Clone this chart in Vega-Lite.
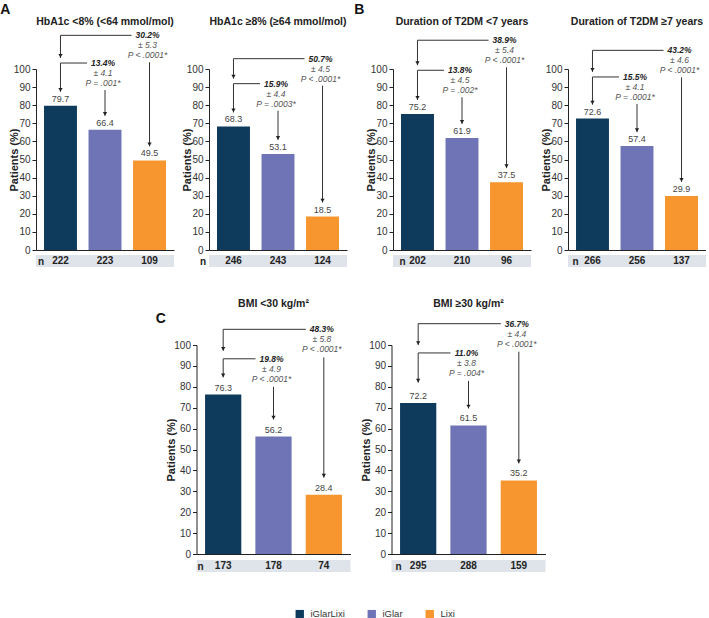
{
"$schema": "https://vega.github.io/schema/vega-lite/v6.json",
"padding": {"left": 0, "top": 2, "right": 0, "bottom": 0},
"config": {"view": {"stroke": null}, "font": "Liberation Sans", "title": {"font": "Liberation Sans"}},
"datasets": {"d": [
{"panel":"A1","kind":"bar","g":"iGlarLixi","v":79.7,"n":222},
{"panel":"A1","kind":"bar","g":"iGlar","v":66.4,"n":223},
{"panel":"A1","kind":"bar","g":"Lixi","v":49.5,"n":109},
{"panel":"A2","kind":"bar","g":"iGlarLixi","v":68.3,"n":246},
{"panel":"A2","kind":"bar","g":"iGlar","v":53.1,"n":243},
{"panel":"A2","kind":"bar","g":"Lixi","v":18.5,"n":124},
{"panel":"B1","kind":"bar","g":"iGlarLixi","v":75.2,"n":202},
{"panel":"B1","kind":"bar","g":"iGlar","v":61.9,"n":210},
{"panel":"B1","kind":"bar","g":"Lixi","v":37.5,"n":96},
{"panel":"B2","kind":"bar","g":"iGlarLixi","v":72.6,"n":266},
{"panel":"B2","kind":"bar","g":"iGlar","v":57.4,"n":256},
{"panel":"B2","kind":"bar","g":"Lixi","v":29.9,"n":137},
{"panel":"C1","kind":"bar","g":"iGlarLixi","v":76.3,"n":173},
{"panel":"C1","kind":"bar","g":"iGlar","v":56.2,"n":178},
{"panel":"C1","kind":"bar","g":"Lixi","v":28.4,"n":74},
{"panel":"C2","kind":"bar","g":"iGlarLixi","v":72.2,"n":295},
{"panel":"C2","kind":"bar","g":"iGlar","v":61.5,"n":288},
{"panel":"C2","kind":"bar","g":"Lixi","v":35.2,"n":159},
{"panel":"A1","kind":"cmp","from":"iGlarLixi","to":"iGlar","lvl":103.3,"tip":87.4,"vto":66.4,"diff":"13.4%","sd":"± 4.1","p":"P = .001*"},
{"panel":"A1","kind":"cmp","from":"iGlarLixi","to":"Lixi","lvl":118.6,"tip":106.1,"vto":49.5,"diff":"30.2%","sd":"± 5.3","p":"P < .0001*"},
{"panel":"A2","kind":"cmp","from":"iGlarLixi","to":"iGlar","lvl":91.9,"tip":76.0,"vto":53.1,"diff":"15.9%","sd":"± 4.4","p":"P = .0003*"},
{"panel":"A2","kind":"cmp","from":"iGlarLixi","to":"Lixi","lvl":105.7,"tip":94.7,"vto":18.5,"diff":"50.7%","sd":"± 4.5","p":"P < .0001*"},
{"panel":"B1","kind":"cmp","from":"iGlarLixi","to":"iGlar","lvl":99.3,"tip":82.9,"vto":61.9,"diff":"13.8%","sd":"± 4.5","p":"P = .002*"},
{"panel":"B1","kind":"cmp","from":"iGlarLixi","to":"Lixi","lvl":115.9,"tip":102.1,"vto":37.5,"diff":"38.9%","sd":"± 5.4","p":"P < .0001*"},
{"panel":"B2","kind":"cmp","from":"iGlarLixi","to":"iGlar","lvl":95.6,"tip":80.3,"vto":57.4,"diff":"15.5%","sd":"± 4.1","p":"P = .0001*"},
{"panel":"B2","kind":"cmp","from":"iGlarLixi","to":"Lixi","lvl":110.3,"tip":98.4,"vto":29.9,"diff":"43.2%","sd":"± 4.6","p":"P < .0001*"},
{"panel":"C1","kind":"cmp","from":"iGlarLixi","to":"iGlar","lvl":93.4,"tip":84.5,"vto":56.2,"diff":"19.8%","sd":"± 4.9","p":"P < .0001*"},
{"panel":"C1","kind":"cmp","from":"iGlarLixi","to":"Lixi","lvl":107.5,"tip":97.2,"vto":28.4,"diff":"48.3%","sd":"± 5.8","p":"P < .0001*"},
{"panel":"C2","kind":"cmp","from":"iGlarLixi","to":"iGlar","lvl":96.2,"tip":82.0,"vto":61.5,"diff":"11.0%","sd":"± 3.8","p":"P = .004*"},
{"panel":"C2","kind":"cmp","from":"iGlarLixi","to":"Lixi","lvl":110.2,"tip":100.0,"vto":35.2,"diff":"36.7%","sd":"± 4.4","p":"P < .0001*"}
]},
"vconcat": [
{"hconcat": [
{"title": {"text": "A", "anchor": "start", "fontSize": 14, "fontWeight": "bold", "color": "#111", "offset": 0, "dx": -8},
 "hconcat": [
{"width": 138, "height": 181, "data": {"name": "d"},
 "title": {"text": "HbA1c <8% (<64 mmol/mol)", "fontSize": 10.5, "fontWeight": "bold", "color": "#222", "offset": 4, "frame": "group"},
 "layer": [
  {"transform": [{"filter": "datum.panel=='A1' && datum.g=='iGlarLixi'"}], "mark": {"type": "rect", "color": "#dfe3ea"},
   "encoding": {"y": {"datum": -2.8, "type": "quantitative", "scale": {"domain": [0, 100], "nice": false}}, "y2": {"datum": -9.4}}},
  {"transform": [{"filter": "datum.panel=='A1' && datum.kind=='bar'"}], "mark": {"type": "bar"},
   "encoding": {
    "x": {"field": "g", "type": "nominal", "scale": {"domain": ["iGlarLixi", "iGlar", "Lixi"], "paddingInner": 0.26, "paddingOuter": 0.18},
          "axis": {"title": "n", "zindex": 1, "labels": false, "ticks": false, "domainColor": "#222", "titleX": 4.5, "titleY": 11, "titleAngle": 0, "titleAlign": "center", "titleBaseline": "middle", "titleFontSize": 10, "titleFontWeight": "bold", "titleColor": "#222"}},
    "y": {"field": "v", "type": "quantitative", "scale": {"domain": [0, 100], "nice": false},
          "axis": {"title": "Patients (%)", "values": [0,10,20,30,40,50,60,70,80,90,100], "tickCount": 11, "labelOverlap": false, "grid": false, "tickSize": 4, "labelPadding": 2, "labelFontSize": 10, "labelColor": "#333", "domainColor": "#222", "tickColor": "#222", "titleFontSize": 11, "titleFontWeight": "bold", "titleColor": "#222", "titlePadding": -6}},
    "color": {"field": "g", "type": "nominal", "scale": {"domain": ["iGlarLixi", "iGlar", "Lixi"], "range": ["#0e3a5c", "#6f74b6", "#f7952e"]},
              "legend": {"title": null, "orient": "none", "legendX": 259, "legendY": 540, "direction": "horizontal", "symbolType": "square", "symbolSize": 70, "symbolStrokeWidth": 0, "labelFontSize": 9.5, "labelColor": "#333", "columnPadding": 22, "labelOffset": 6}}}},
  {"transform": [{"filter": "datum.panel=='A1' && datum.kind=='bar'"}], "mark": {"type": "text", "fontSize": 9, "color": "#444", "baseline": "bottom", "dy": -2},
   "encoding": {"x": {"field": "g", "type": "nominal", "scale": {"domain": ["iGlarLixi", "iGlar", "Lixi"], "paddingInner": 0.26, "paddingOuter": 0.18}},
    "y": {"field": "v", "type": "quantitative", "scale": {"domain": [0, 100], "nice": false}}, "text": {"field": "v", "type": "quantitative", "format": ".1f"}}},
  {"transform": [{"filter": "datum.panel=='A1' && datum.kind=='bar'"}], "mark": {"type": "text", "fontSize": 10, "fontWeight": "bold", "color": "#222", "baseline": "middle"},
   "encoding": {"x": {"field": "g", "type": "nominal", "scale": {"domain": ["iGlarLixi", "iGlar", "Lixi"], "paddingInner": 0.26, "paddingOuter": 0.18}},
    "y": {"datum": -6.1, "type": "quantitative", "scale": {"domain": [0, 100], "nice": false}}, "text": {"field": "n", "type": "nominal"}}},
  {"transform": [{"filter": "datum.panel=='A1' && datum.kind=='cmp'"}], "mark": {"type": "rule", "color": "#333", "x2Offset": -18},
   "encoding": {"x": {"field": "from", "type": "nominal", "scale": {"domain": ["iGlarLixi", "iGlar", "Lixi"], "paddingInner": 0.26, "paddingOuter": 0.18}}, "x2": {"field": "to"},
    "y": {"field": "lvl", "type": "quantitative", "scale": {"domain": [0, 100], "nice": false}}}},
  {"transform": [{"filter": "datum.panel=='A1' && datum.kind=='cmp'"}], "mark": {"type": "rule", "color": "#333"},
   "encoding": {"x": {"field": "from", "type": "nominal", "scale": {"domain": ["iGlarLixi", "iGlar", "Lixi"], "paddingInner": 0.26, "paddingOuter": 0.18}},
    "y": {"field": "lvl", "type": "quantitative", "scale": {"domain": [0, 100], "nice": false}}, "y2": {"field": "tip"}}},
  {"transform": [{"filter": "datum.panel=='A1' && datum.kind=='cmp'"}], "mark": {"type": "rule", "color": "#333", "yOffset": 27, "y2Offset": -14},
   "encoding": {"x": {"field": "to", "type": "nominal", "scale": {"domain": ["iGlarLixi", "iGlar", "Lixi"], "paddingInner": 0.26, "paddingOuter": 0.18}},
    "y": {"field": "lvl", "type": "quantitative", "scale": {"domain": [0, 100], "nice": false}}, "y2": {"field": "vto"}}},
  {"transform": [{"filter": "datum.panel=='A1' && datum.kind=='cmp'"}], "mark": {"type": "point", "shape": "triangle-down", "filled": true, "color": "#222", "opacity": 1, "size": 18, "yOffset": -2},
   "encoding": {"x": {"field": "from", "type": "nominal", "scale": {"domain": ["iGlarLixi", "iGlar", "Lixi"], "paddingInner": 0.26, "paddingOuter": 0.18}},
    "y": {"field": "tip", "type": "quantitative", "scale": {"domain": [0, 100], "nice": false}}}},
  {"transform": [{"filter": "datum.panel=='A1' && datum.kind=='cmp'"}], "mark": {"type": "point", "shape": "triangle-down", "filled": true, "color": "#222", "opacity": 1, "size": 18, "yOffset": -16},
   "encoding": {"x": {"field": "to", "type": "nominal", "scale": {"domain": ["iGlarLixi", "iGlar", "Lixi"], "paddingInner": 0.26, "paddingOuter": 0.18}},
    "y": {"field": "vto", "type": "quantitative", "scale": {"domain": [0, 100], "nice": false}}}},
  {"transform": [{"filter": "datum.panel=='A1' && datum.kind=='cmp'"}], "mark": {"type": "text", "fontSize": 8.5, "fontStyle": "italic", "fontWeight": "bold", "color": "#222", "baseline": "middle", "dx": -2},
   "encoding": {"x": {"field": "to", "type": "nominal", "scale": {"domain": ["iGlarLixi", "iGlar", "Lixi"], "paddingInner": 0.26, "paddingOuter": 0.18}},
    "y": {"field": "lvl", "type": "quantitative", "scale": {"domain": [0, 100], "nice": false}}, "text": {"field": "diff"}}},
  {"transform": [{"filter": "datum.panel=='A1' && datum.kind=='cmp'"}], "mark": {"type": "text", "fontSize": 8.5, "fontStyle": "italic", "color": "#555", "baseline": "middle", "dx": -2, "dy": 10},
   "encoding": {"x": {"field": "to", "type": "nominal", "scale": {"domain": ["iGlarLixi", "iGlar", "Lixi"], "paddingInner": 0.26, "paddingOuter": 0.18}},
    "y": {"field": "lvl", "type": "quantitative", "scale": {"domain": [0, 100], "nice": false}}, "text": {"field": "sd"}}},
  {"transform": [{"filter": "datum.panel=='A1' && datum.kind=='cmp'"}], "mark": {"type": "text", "fontSize": 8.5, "fontStyle": "italic", "color": "#555", "baseline": "middle", "dx": -2, "dy": 20},
   "encoding": {"x": {"field": "to", "type": "nominal", "scale": {"domain": ["iGlarLixi", "iGlar", "Lixi"], "paddingInner": 0.26, "paddingOuter": 0.18}},
    "y": {"field": "lvl", "type": "quantitative", "scale": {"domain": [0, 100], "nice": false}}, "text": {"field": "p"}}}
 ]},
{"width": 138, "height": 181, "data": {"name": "d"},
 "title": {"text": "HbA1c ≥8% (≥64 mmol/mol)", "fontSize": 10.5, "fontWeight": "bold", "color": "#222", "offset": 27, "frame": "group"},
 "layer": [
  {"transform": [{"filter": "datum.panel=='A2' && datum.g=='iGlarLixi'"}], "mark": {"type": "rect", "color": "#dfe3ea"},
   "encoding": {"y": {"datum": -2.8, "type": "quantitative", "scale": {"domain": [0, 100], "nice": false}}, "y2": {"datum": -9.4}}},
  {"transform": [{"filter": "datum.panel=='A2' && datum.kind=='bar'"}], "mark": {"type": "bar"},
   "encoding": {
    "x": {"field": "g", "type": "nominal", "scale": {"domain": ["iGlarLixi", "iGlar", "Lixi"], "paddingInner": 0.26, "paddingOuter": 0.18},
          "axis": {"title": "n", "zindex": 1, "labels": false, "ticks": false, "domainColor": "#222", "titleX": -6.5, "titleY": 11, "titleAngle": 0, "titleAlign": "center", "titleBaseline": "middle", "titleFontSize": 10, "titleFontWeight": "bold", "titleColor": "#222"}},
    "y": {"field": "v", "type": "quantitative", "scale": {"domain": [0, 100], "nice": false},
          "axis": {"title": "Patients (%)", "values": [0,10,20,30,40,50,60,70,80,90,100], "tickCount": 11, "labelOverlap": false, "grid": false, "tickSize": 4, "labelPadding": 2, "labelFontSize": 10, "labelColor": "#333", "domainColor": "#222", "tickColor": "#222", "titleFontSize": 11, "titleFontWeight": "bold", "titleColor": "#222", "titlePadding": -6}},
    "color": {"field": "g", "type": "nominal", "scale": {"domain": ["iGlarLixi", "iGlar", "Lixi"], "range": ["#0e3a5c", "#6f74b6", "#f7952e"]},
              "legend": {"title": null, "orient": "none", "legendX": 259, "legendY": 540, "direction": "horizontal", "symbolType": "square", "symbolSize": 70, "symbolStrokeWidth": 0, "labelFontSize": 9.5, "labelColor": "#333", "columnPadding": 22, "labelOffset": 6}}}},
  {"transform": [{"filter": "datum.panel=='A2' && datum.kind=='bar'"}], "mark": {"type": "text", "fontSize": 9, "color": "#444", "baseline": "bottom", "dy": -2},
   "encoding": {"x": {"field": "g", "type": "nominal", "scale": {"domain": ["iGlarLixi", "iGlar", "Lixi"], "paddingInner": 0.26, "paddingOuter": 0.18}},
    "y": {"field": "v", "type": "quantitative", "scale": {"domain": [0, 100], "nice": false}}, "text": {"field": "v", "type": "quantitative", "format": ".1f"}}},
  {"transform": [{"filter": "datum.panel=='A2' && datum.kind=='bar'"}], "mark": {"type": "text", "fontSize": 10, "fontWeight": "bold", "color": "#222", "baseline": "middle"},
   "encoding": {"x": {"field": "g", "type": "nominal", "scale": {"domain": ["iGlarLixi", "iGlar", "Lixi"], "paddingInner": 0.26, "paddingOuter": 0.18}},
    "y": {"datum": -6.1, "type": "quantitative", "scale": {"domain": [0, 100], "nice": false}}, "text": {"field": "n", "type": "nominal"}}},
  {"transform": [{"filter": "datum.panel=='A2' && datum.kind=='cmp'"}], "mark": {"type": "rule", "color": "#333", "x2Offset": -18},
   "encoding": {"x": {"field": "from", "type": "nominal", "scale": {"domain": ["iGlarLixi", "iGlar", "Lixi"], "paddingInner": 0.26, "paddingOuter": 0.18}}, "x2": {"field": "to"},
    "y": {"field": "lvl", "type": "quantitative", "scale": {"domain": [0, 100], "nice": false}}}},
  {"transform": [{"filter": "datum.panel=='A2' && datum.kind=='cmp'"}], "mark": {"type": "rule", "color": "#333"},
   "encoding": {"x": {"field": "from", "type": "nominal", "scale": {"domain": ["iGlarLixi", "iGlar", "Lixi"], "paddingInner": 0.26, "paddingOuter": 0.18}},
    "y": {"field": "lvl", "type": "quantitative", "scale": {"domain": [0, 100], "nice": false}}, "y2": {"field": "tip"}}},
  {"transform": [{"filter": "datum.panel=='A2' && datum.kind=='cmp'"}], "mark": {"type": "rule", "color": "#333", "yOffset": 27, "y2Offset": -14},
   "encoding": {"x": {"field": "to", "type": "nominal", "scale": {"domain": ["iGlarLixi", "iGlar", "Lixi"], "paddingInner": 0.26, "paddingOuter": 0.18}},
    "y": {"field": "lvl", "type": "quantitative", "scale": {"domain": [0, 100], "nice": false}}, "y2": {"field": "vto"}}},
  {"transform": [{"filter": "datum.panel=='A2' && datum.kind=='cmp'"}], "mark": {"type": "point", "shape": "triangle-down", "filled": true, "color": "#222", "opacity": 1, "size": 18, "yOffset": -2},
   "encoding": {"x": {"field": "from", "type": "nominal", "scale": {"domain": ["iGlarLixi", "iGlar", "Lixi"], "paddingInner": 0.26, "paddingOuter": 0.18}},
    "y": {"field": "tip", "type": "quantitative", "scale": {"domain": [0, 100], "nice": false}}}},
  {"transform": [{"filter": "datum.panel=='A2' && datum.kind=='cmp'"}], "mark": {"type": "point", "shape": "triangle-down", "filled": true, "color": "#222", "opacity": 1, "size": 18, "yOffset": -16},
   "encoding": {"x": {"field": "to", "type": "nominal", "scale": {"domain": ["iGlarLixi", "iGlar", "Lixi"], "paddingInner": 0.26, "paddingOuter": 0.18}},
    "y": {"field": "vto", "type": "quantitative", "scale": {"domain": [0, 100], "nice": false}}}},
  {"transform": [{"filter": "datum.panel=='A2' && datum.kind=='cmp'"}], "mark": {"type": "text", "fontSize": 8.5, "fontStyle": "italic", "fontWeight": "bold", "color": "#222", "baseline": "middle", "dx": -2},
   "encoding": {"x": {"field": "to", "type": "nominal", "scale": {"domain": ["iGlarLixi", "iGlar", "Lixi"], "paddingInner": 0.26, "paddingOuter": 0.18}},
    "y": {"field": "lvl", "type": "quantitative", "scale": {"domain": [0, 100], "nice": false}}, "text": {"field": "diff"}}},
  {"transform": [{"filter": "datum.panel=='A2' && datum.kind=='cmp'"}], "mark": {"type": "text", "fontSize": 8.5, "fontStyle": "italic", "color": "#555", "baseline": "middle", "dx": -2, "dy": 10},
   "encoding": {"x": {"field": "to", "type": "nominal", "scale": {"domain": ["iGlarLixi", "iGlar", "Lixi"], "paddingInner": 0.26, "paddingOuter": 0.18}},
    "y": {"field": "lvl", "type": "quantitative", "scale": {"domain": [0, 100], "nice": false}}, "text": {"field": "sd"}}},
  {"transform": [{"filter": "datum.panel=='A2' && datum.kind=='cmp'"}], "mark": {"type": "text", "fontSize": 8.5, "fontStyle": "italic", "color": "#555", "baseline": "middle", "dx": -2, "dy": 20},
   "encoding": {"x": {"field": "to", "type": "nominal", "scale": {"domain": ["iGlarLixi", "iGlar", "Lixi"], "paddingInner": 0.26, "paddingOuter": 0.18}},
    "y": {"field": "lvl", "type": "quantitative", "scale": {"domain": [0, 100], "nice": false}}, "text": {"field": "p"}}}
 ]}
 ], "spacing": 7},
{"title": {"text": "B", "anchor": "start", "fontSize": 14, "fontWeight": "bold", "color": "#111", "offset": 0, "dx": -11},
 "hconcat": [
{"width": 138, "height": 181, "data": {"name": "d"},
 "title": {"text": "Duration of T2DM <7 years", "fontSize": 10.5, "fontWeight": "bold", "color": "#222", "offset": 9, "frame": "group"},
 "layer": [
  {"transform": [{"filter": "datum.panel=='B1' && datum.g=='iGlarLixi'"}], "mark": {"type": "rect", "color": "#dfe3ea"},
   "encoding": {"y": {"datum": -2.8, "type": "quantitative", "scale": {"domain": [0, 100], "nice": false}}, "y2": {"datum": -9.4}}},
  {"transform": [{"filter": "datum.panel=='B1' && datum.kind=='bar'"}], "mark": {"type": "bar"},
   "encoding": {
    "x": {"field": "g", "type": "nominal", "scale": {"domain": ["iGlarLixi", "iGlar", "Lixi"], "paddingInner": 0.26, "paddingOuter": 0.18},
          "axis": {"title": "n", "zindex": 1, "labels": false, "ticks": false, "domainColor": "#222", "titleX": 9, "titleY": 11, "titleAngle": 0, "titleAlign": "center", "titleBaseline": "middle", "titleFontSize": 10, "titleFontWeight": "bold", "titleColor": "#222"}},
    "y": {"field": "v", "type": "quantitative", "scale": {"domain": [0, 100], "nice": false},
          "axis": {"title": "Patients (%)", "values": [0,10,20,30,40,50,60,70,80,90,100], "tickCount": 11, "labelOverlap": false, "grid": false, "tickSize": 4, "labelPadding": 2, "labelFontSize": 10, "labelColor": "#333", "domainColor": "#222", "tickColor": "#222", "titleFontSize": 11, "titleFontWeight": "bold", "titleColor": "#222", "titlePadding": -6}},
    "color": {"field": "g", "type": "nominal", "scale": {"domain": ["iGlarLixi", "iGlar", "Lixi"], "range": ["#0e3a5c", "#6f74b6", "#f7952e"]},
              "legend": {"title": null, "orient": "none", "legendX": 259, "legendY": 540, "direction": "horizontal", "symbolType": "square", "symbolSize": 70, "symbolStrokeWidth": 0, "labelFontSize": 9.5, "labelColor": "#333", "columnPadding": 22, "labelOffset": 6}}}},
  {"transform": [{"filter": "datum.panel=='B1' && datum.kind=='bar'"}], "mark": {"type": "text", "fontSize": 9, "color": "#444", "baseline": "bottom", "dy": -2},
   "encoding": {"x": {"field": "g", "type": "nominal", "scale": {"domain": ["iGlarLixi", "iGlar", "Lixi"], "paddingInner": 0.26, "paddingOuter": 0.18}},
    "y": {"field": "v", "type": "quantitative", "scale": {"domain": [0, 100], "nice": false}}, "text": {"field": "v", "type": "quantitative", "format": ".1f"}}},
  {"transform": [{"filter": "datum.panel=='B1' && datum.kind=='bar'"}], "mark": {"type": "text", "fontSize": 10, "fontWeight": "bold", "color": "#222", "baseline": "middle"},
   "encoding": {"x": {"field": "g", "type": "nominal", "scale": {"domain": ["iGlarLixi", "iGlar", "Lixi"], "paddingInner": 0.26, "paddingOuter": 0.18}},
    "y": {"datum": -6.1, "type": "quantitative", "scale": {"domain": [0, 100], "nice": false}}, "text": {"field": "n", "type": "nominal"}}},
  {"transform": [{"filter": "datum.panel=='B1' && datum.kind=='cmp'"}], "mark": {"type": "rule", "color": "#333", "x2Offset": -18},
   "encoding": {"x": {"field": "from", "type": "nominal", "scale": {"domain": ["iGlarLixi", "iGlar", "Lixi"], "paddingInner": 0.26, "paddingOuter": 0.18}}, "x2": {"field": "to"},
    "y": {"field": "lvl", "type": "quantitative", "scale": {"domain": [0, 100], "nice": false}}}},
  {"transform": [{"filter": "datum.panel=='B1' && datum.kind=='cmp'"}], "mark": {"type": "rule", "color": "#333"},
   "encoding": {"x": {"field": "from", "type": "nominal", "scale": {"domain": ["iGlarLixi", "iGlar", "Lixi"], "paddingInner": 0.26, "paddingOuter": 0.18}},
    "y": {"field": "lvl", "type": "quantitative", "scale": {"domain": [0, 100], "nice": false}}, "y2": {"field": "tip"}}},
  {"transform": [{"filter": "datum.panel=='B1' && datum.kind=='cmp'"}], "mark": {"type": "rule", "color": "#333", "yOffset": 27, "y2Offset": -14},
   "encoding": {"x": {"field": "to", "type": "nominal", "scale": {"domain": ["iGlarLixi", "iGlar", "Lixi"], "paddingInner": 0.26, "paddingOuter": 0.18}},
    "y": {"field": "lvl", "type": "quantitative", "scale": {"domain": [0, 100], "nice": false}}, "y2": {"field": "vto"}}},
  {"transform": [{"filter": "datum.panel=='B1' && datum.kind=='cmp'"}], "mark": {"type": "point", "shape": "triangle-down", "filled": true, "color": "#222", "opacity": 1, "size": 18, "yOffset": -2},
   "encoding": {"x": {"field": "from", "type": "nominal", "scale": {"domain": ["iGlarLixi", "iGlar", "Lixi"], "paddingInner": 0.26, "paddingOuter": 0.18}},
    "y": {"field": "tip", "type": "quantitative", "scale": {"domain": [0, 100], "nice": false}}}},
  {"transform": [{"filter": "datum.panel=='B1' && datum.kind=='cmp'"}], "mark": {"type": "point", "shape": "triangle-down", "filled": true, "color": "#222", "opacity": 1, "size": 18, "yOffset": -16},
   "encoding": {"x": {"field": "to", "type": "nominal", "scale": {"domain": ["iGlarLixi", "iGlar", "Lixi"], "paddingInner": 0.26, "paddingOuter": 0.18}},
    "y": {"field": "vto", "type": "quantitative", "scale": {"domain": [0, 100], "nice": false}}}},
  {"transform": [{"filter": "datum.panel=='B1' && datum.kind=='cmp'"}], "mark": {"type": "text", "fontSize": 8.5, "fontStyle": "italic", "fontWeight": "bold", "color": "#222", "baseline": "middle", "dx": -2},
   "encoding": {"x": {"field": "to", "type": "nominal", "scale": {"domain": ["iGlarLixi", "iGlar", "Lixi"], "paddingInner": 0.26, "paddingOuter": 0.18}},
    "y": {"field": "lvl", "type": "quantitative", "scale": {"domain": [0, 100], "nice": false}}, "text": {"field": "diff"}}},
  {"transform": [{"filter": "datum.panel=='B1' && datum.kind=='cmp'"}], "mark": {"type": "text", "fontSize": 8.5, "fontStyle": "italic", "color": "#555", "baseline": "middle", "dx": -2, "dy": 10},
   "encoding": {"x": {"field": "to", "type": "nominal", "scale": {"domain": ["iGlarLixi", "iGlar", "Lixi"], "paddingInner": 0.26, "paddingOuter": 0.18}},
    "y": {"field": "lvl", "type": "quantitative", "scale": {"domain": [0, 100], "nice": false}}, "text": {"field": "sd"}}},
  {"transform": [{"filter": "datum.panel=='B1' && datum.kind=='cmp'"}], "mark": {"type": "text", "fontSize": 8.5, "fontStyle": "italic", "color": "#555", "baseline": "middle", "dx": -2, "dy": 20},
   "encoding": {"x": {"field": "to", "type": "nominal", "scale": {"domain": ["iGlarLixi", "iGlar", "Lixi"], "paddingInner": 0.26, "paddingOuter": 0.18}},
    "y": {"field": "lvl", "type": "quantitative", "scale": {"domain": [0, 100], "nice": false}}, "text": {"field": "p"}}}
 ]},
{"width": 138, "height": 181, "data": {"name": "d"},
 "title": {"text": "Duration of T2DM ≥7 years", "fontSize": 10.5, "fontWeight": "bold", "color": "#222", "offset": 19, "frame": "group"},
 "layer": [
  {"transform": [{"filter": "datum.panel=='B2' && datum.g=='iGlarLixi'"}], "mark": {"type": "rect", "color": "#dfe3ea"},
   "encoding": {"y": {"datum": -2.8, "type": "quantitative", "scale": {"domain": [0, 100], "nice": false}}, "y2": {"datum": -9.4}}},
  {"transform": [{"filter": "datum.panel=='B2' && datum.kind=='bar'"}], "mark": {"type": "bar"},
   "encoding": {
    "x": {"field": "g", "type": "nominal", "scale": {"domain": ["iGlarLixi", "iGlar", "Lixi"], "paddingInner": 0.26, "paddingOuter": 0.18},
          "axis": {"title": "n", "zindex": 1, "labels": false, "ticks": false, "domainColor": "#222", "titleX": 7, "titleY": 11, "titleAngle": 0, "titleAlign": "center", "titleBaseline": "middle", "titleFontSize": 10, "titleFontWeight": "bold", "titleColor": "#222"}},
    "y": {"field": "v", "type": "quantitative", "scale": {"domain": [0, 100], "nice": false},
          "axis": {"title": "Patients (%)", "values": [0,10,20,30,40,50,60,70,80,90,100], "tickCount": 11, "labelOverlap": false, "grid": false, "tickSize": 4, "labelPadding": 2, "labelFontSize": 10, "labelColor": "#333", "domainColor": "#222", "tickColor": "#222", "titleFontSize": 11, "titleFontWeight": "bold", "titleColor": "#222", "titlePadding": -6}},
    "color": {"field": "g", "type": "nominal", "scale": {"domain": ["iGlarLixi", "iGlar", "Lixi"], "range": ["#0e3a5c", "#6f74b6", "#f7952e"]},
              "legend": {"title": null, "orient": "none", "legendX": 259, "legendY": 540, "direction": "horizontal", "symbolType": "square", "symbolSize": 70, "symbolStrokeWidth": 0, "labelFontSize": 9.5, "labelColor": "#333", "columnPadding": 22, "labelOffset": 6}}}},
  {"transform": [{"filter": "datum.panel=='B2' && datum.kind=='bar'"}], "mark": {"type": "text", "fontSize": 9, "color": "#444", "baseline": "bottom", "dy": -2},
   "encoding": {"x": {"field": "g", "type": "nominal", "scale": {"domain": ["iGlarLixi", "iGlar", "Lixi"], "paddingInner": 0.26, "paddingOuter": 0.18}},
    "y": {"field": "v", "type": "quantitative", "scale": {"domain": [0, 100], "nice": false}}, "text": {"field": "v", "type": "quantitative", "format": ".1f"}}},
  {"transform": [{"filter": "datum.panel=='B2' && datum.kind=='bar'"}], "mark": {"type": "text", "fontSize": 10, "fontWeight": "bold", "color": "#222", "baseline": "middle"},
   "encoding": {"x": {"field": "g", "type": "nominal", "scale": {"domain": ["iGlarLixi", "iGlar", "Lixi"], "paddingInner": 0.26, "paddingOuter": 0.18}},
    "y": {"datum": -6.1, "type": "quantitative", "scale": {"domain": [0, 100], "nice": false}}, "text": {"field": "n", "type": "nominal"}}},
  {"transform": [{"filter": "datum.panel=='B2' && datum.kind=='cmp'"}], "mark": {"type": "rule", "color": "#333", "x2Offset": -18},
   "encoding": {"x": {"field": "from", "type": "nominal", "scale": {"domain": ["iGlarLixi", "iGlar", "Lixi"], "paddingInner": 0.26, "paddingOuter": 0.18}}, "x2": {"field": "to"},
    "y": {"field": "lvl", "type": "quantitative", "scale": {"domain": [0, 100], "nice": false}}}},
  {"transform": [{"filter": "datum.panel=='B2' && datum.kind=='cmp'"}], "mark": {"type": "rule", "color": "#333"},
   "encoding": {"x": {"field": "from", "type": "nominal", "scale": {"domain": ["iGlarLixi", "iGlar", "Lixi"], "paddingInner": 0.26, "paddingOuter": 0.18}},
    "y": {"field": "lvl", "type": "quantitative", "scale": {"domain": [0, 100], "nice": false}}, "y2": {"field": "tip"}}},
  {"transform": [{"filter": "datum.panel=='B2' && datum.kind=='cmp'"}], "mark": {"type": "rule", "color": "#333", "yOffset": 27, "y2Offset": -14},
   "encoding": {"x": {"field": "to", "type": "nominal", "scale": {"domain": ["iGlarLixi", "iGlar", "Lixi"], "paddingInner": 0.26, "paddingOuter": 0.18}},
    "y": {"field": "lvl", "type": "quantitative", "scale": {"domain": [0, 100], "nice": false}}, "y2": {"field": "vto"}}},
  {"transform": [{"filter": "datum.panel=='B2' && datum.kind=='cmp'"}], "mark": {"type": "point", "shape": "triangle-down", "filled": true, "color": "#222", "opacity": 1, "size": 18, "yOffset": -2},
   "encoding": {"x": {"field": "from", "type": "nominal", "scale": {"domain": ["iGlarLixi", "iGlar", "Lixi"], "paddingInner": 0.26, "paddingOuter": 0.18}},
    "y": {"field": "tip", "type": "quantitative", "scale": {"domain": [0, 100], "nice": false}}}},
  {"transform": [{"filter": "datum.panel=='B2' && datum.kind=='cmp'"}], "mark": {"type": "point", "shape": "triangle-down", "filled": true, "color": "#222", "opacity": 1, "size": 18, "yOffset": -16},
   "encoding": {"x": {"field": "to", "type": "nominal", "scale": {"domain": ["iGlarLixi", "iGlar", "Lixi"], "paddingInner": 0.26, "paddingOuter": 0.18}},
    "y": {"field": "vto", "type": "quantitative", "scale": {"domain": [0, 100], "nice": false}}}},
  {"transform": [{"filter": "datum.panel=='B2' && datum.kind=='cmp'"}], "mark": {"type": "text", "fontSize": 8.5, "fontStyle": "italic", "fontWeight": "bold", "color": "#222", "baseline": "middle", "dx": -2},
   "encoding": {"x": {"field": "to", "type": "nominal", "scale": {"domain": ["iGlarLixi", "iGlar", "Lixi"], "paddingInner": 0.26, "paddingOuter": 0.18}},
    "y": {"field": "lvl", "type": "quantitative", "scale": {"domain": [0, 100], "nice": false}}, "text": {"field": "diff"}}},
  {"transform": [{"filter": "datum.panel=='B2' && datum.kind=='cmp'"}], "mark": {"type": "text", "fontSize": 8.5, "fontStyle": "italic", "color": "#555", "baseline": "middle", "dx": -2, "dy": 10},
   "encoding": {"x": {"field": "to", "type": "nominal", "scale": {"domain": ["iGlarLixi", "iGlar", "Lixi"], "paddingInner": 0.26, "paddingOuter": 0.18}},
    "y": {"field": "lvl", "type": "quantitative", "scale": {"domain": [0, 100], "nice": false}}, "text": {"field": "sd"}}},
  {"transform": [{"filter": "datum.panel=='B2' && datum.kind=='cmp'"}], "mark": {"type": "text", "fontSize": 8.5, "fontStyle": "italic", "color": "#555", "baseline": "middle", "dx": -2, "dy": 20},
   "encoding": {"x": {"field": "to", "type": "nominal", "scale": {"domain": ["iGlarLixi", "iGlar", "Lixi"], "paddingInner": 0.26, "paddingOuter": 0.18}},
    "y": {"field": "lvl", "type": "quantitative", "scale": {"domain": [0, 100], "nice": false}}, "text": {"field": "p"}}}
 ]}
 ], "spacing": 9}
], "spacing": 7},
{"title": {"text": "C", "anchor": "start", "fontSize": 14, "fontWeight": "bold", "color": "#111", "offset": 2, "dx": -10, "dy": 29},
 "hconcat": [
{"width": 154, "height": 209, "data": {"name": "d"},
 "title": {"text": "BMI <30 kg/m²", "fontSize": 10.5, "fontWeight": "bold", "color": "#222", "offset": 16, "frame": "group"},
 "layer": [
  {"transform": [{"filter": "datum.panel=='C1' && datum.g=='iGlarLixi'"}], "mark": {"type": "rect", "color": "#dfe3ea"},
   "encoding": {"y": {"datum": -2.9, "type": "quantitative", "scale": {"domain": [0, 100], "nice": false}}, "y2": {"datum": -8.6}}},
  {"transform": [{"filter": "datum.panel=='C1' && datum.kind=='bar'"}], "mark": {"type": "bar"},
   "encoding": {
    "x": {"field": "g", "type": "nominal", "scale": {"domain": ["iGlarLixi", "iGlar", "Lixi"], "paddingInner": 0.28, "paddingOuter": 0.17},
          "axis": {"title": "n", "zindex": 1, "labels": false, "ticks": false, "domainColor": "#222", "titleX": 3.5, "titleY": 12, "titleAngle": 0, "titleAlign": "center", "titleBaseline": "middle", "titleFontSize": 10, "titleFontWeight": "bold", "titleColor": "#222"}},
    "y": {"field": "v", "type": "quantitative", "scale": {"domain": [0, 100], "nice": false},
          "axis": {"title": "Patients (%)", "values": [0,10,20,30,40,50,60,70,80,90,100], "tickCount": 11, "labelOverlap": false, "grid": false, "tickSize": 4, "labelPadding": 2, "labelFontSize": 10, "labelColor": "#333", "domainColor": "#222", "tickColor": "#222", "titleFontSize": 11, "titleFontWeight": "bold", "titleColor": "#222", "titlePadding": -3}},
    "color": {"field": "g", "type": "nominal", "scale": {"domain": ["iGlarLixi", "iGlar", "Lixi"], "range": ["#0e3a5c", "#6f74b6", "#f7952e"]},
              "legend": {"title": null, "orient": "none", "legendX": 259, "legendY": 540, "direction": "horizontal", "symbolType": "square", "symbolSize": 70, "symbolStrokeWidth": 0, "labelFontSize": 9.5, "labelColor": "#333", "columnPadding": 22, "labelOffset": 6}}}},
  {"transform": [{"filter": "datum.panel=='C1' && datum.kind=='bar'"}], "mark": {"type": "text", "fontSize": 9, "color": "#444", "baseline": "bottom", "dy": -2},
   "encoding": {"x": {"field": "g", "type": "nominal", "scale": {"domain": ["iGlarLixi", "iGlar", "Lixi"], "paddingInner": 0.28, "paddingOuter": 0.17}},
    "y": {"field": "v", "type": "quantitative", "scale": {"domain": [0, 100], "nice": false}}, "text": {"field": "v", "type": "quantitative", "format": ".1f"}}},
  {"transform": [{"filter": "datum.panel=='C1' && datum.kind=='bar'"}], "mark": {"type": "text", "fontSize": 10, "fontWeight": "bold", "color": "#222", "baseline": "middle"},
   "encoding": {"x": {"field": "g", "type": "nominal", "scale": {"domain": ["iGlarLixi", "iGlar", "Lixi"], "paddingInner": 0.28, "paddingOuter": 0.17}},
    "y": {"datum": -5.7, "type": "quantitative", "scale": {"domain": [0, 100], "nice": false}}, "text": {"field": "n", "type": "nominal"}}},
  {"transform": [{"filter": "datum.panel=='C1' && datum.kind=='cmp'"}], "mark": {"type": "rule", "color": "#333", "x2Offset": -18},
   "encoding": {"x": {"field": "from", "type": "nominal", "scale": {"domain": ["iGlarLixi", "iGlar", "Lixi"], "paddingInner": 0.28, "paddingOuter": 0.17}}, "x2": {"field": "to"},
    "y": {"field": "lvl", "type": "quantitative", "scale": {"domain": [0, 100], "nice": false}}}},
  {"transform": [{"filter": "datum.panel=='C1' && datum.kind=='cmp'"}], "mark": {"type": "rule", "color": "#333"},
   "encoding": {"x": {"field": "from", "type": "nominal", "scale": {"domain": ["iGlarLixi", "iGlar", "Lixi"], "paddingInner": 0.28, "paddingOuter": 0.17}},
    "y": {"field": "lvl", "type": "quantitative", "scale": {"domain": [0, 100], "nice": false}}, "y2": {"field": "tip"}}},
  {"transform": [{"filter": "datum.panel=='C1' && datum.kind=='cmp'"}], "mark": {"type": "rule", "color": "#333", "yOffset": 28, "y2Offset": -17},
   "encoding": {"x": {"field": "to", "type": "nominal", "scale": {"domain": ["iGlarLixi", "iGlar", "Lixi"], "paddingInner": 0.28, "paddingOuter": 0.17}},
    "y": {"field": "lvl", "type": "quantitative", "scale": {"domain": [0, 100], "nice": false}}, "y2": {"field": "vto"}}},
  {"transform": [{"filter": "datum.panel=='C1' && datum.kind=='cmp'"}], "mark": {"type": "point", "shape": "triangle-down", "filled": true, "color": "#222", "opacity": 1, "size": 18, "yOffset": -2},
   "encoding": {"x": {"field": "from", "type": "nominal", "scale": {"domain": ["iGlarLixi", "iGlar", "Lixi"], "paddingInner": 0.28, "paddingOuter": 0.17}},
    "y": {"field": "tip", "type": "quantitative", "scale": {"domain": [0, 100], "nice": false}}}},
  {"transform": [{"filter": "datum.panel=='C1' && datum.kind=='cmp'"}], "mark": {"type": "point", "shape": "triangle-down", "filled": true, "color": "#222", "opacity": 1, "size": 18, "yOffset": -19},
   "encoding": {"x": {"field": "to", "type": "nominal", "scale": {"domain": ["iGlarLixi", "iGlar", "Lixi"], "paddingInner": 0.28, "paddingOuter": 0.17}},
    "y": {"field": "vto", "type": "quantitative", "scale": {"domain": [0, 100], "nice": false}}}},
  {"transform": [{"filter": "datum.panel=='C1' && datum.kind=='cmp'"}], "mark": {"type": "text", "fontSize": 8.5, "fontStyle": "italic", "fontWeight": "bold", "color": "#222", "baseline": "middle", "dx": -2},
   "encoding": {"x": {"field": "to", "type": "nominal", "scale": {"domain": ["iGlarLixi", "iGlar", "Lixi"], "paddingInner": 0.28, "paddingOuter": 0.17}},
    "y": {"field": "lvl", "type": "quantitative", "scale": {"domain": [0, 100], "nice": false}}, "text": {"field": "diff"}}},
  {"transform": [{"filter": "datum.panel=='C1' && datum.kind=='cmp'"}], "mark": {"type": "text", "fontSize": 8.5, "fontStyle": "italic", "color": "#555", "baseline": "middle", "dx": -2, "dy": 10},
   "encoding": {"x": {"field": "to", "type": "nominal", "scale": {"domain": ["iGlarLixi", "iGlar", "Lixi"], "paddingInner": 0.28, "paddingOuter": 0.17}},
    "y": {"field": "lvl", "type": "quantitative", "scale": {"domain": [0, 100], "nice": false}}, "text": {"field": "sd"}}},
  {"transform": [{"filter": "datum.panel=='C1' && datum.kind=='cmp'"}], "mark": {"type": "text", "fontSize": 8.5, "fontStyle": "italic", "color": "#555", "baseline": "middle", "dx": -2, "dy": 20},
   "encoding": {"x": {"field": "to", "type": "nominal", "scale": {"domain": ["iGlarLixi", "iGlar", "Lixi"], "paddingInner": 0.28, "paddingOuter": 0.17}},
    "y": {"field": "lvl", "type": "quantitative", "scale": {"domain": [0, 100], "nice": false}}, "text": {"field": "p"}}}
 ]},
{"width": 154, "height": 209, "data": {"name": "d"},
 "title": {"text": "BMI ≥30 kg/m²", "fontSize": 10.5, "fontWeight": "bold", "color": "#222", "offset": 10, "frame": "group"},
 "layer": [
  {"transform": [{"filter": "datum.panel=='C2' && datum.g=='iGlarLixi'"}], "mark": {"type": "rect", "color": "#dfe3ea"},
   "encoding": {"y": {"datum": -2.9, "type": "quantitative", "scale": {"domain": [0, 100], "nice": false}}, "y2": {"datum": -8.6}}},
  {"transform": [{"filter": "datum.panel=='C2' && datum.kind=='bar'"}], "mark": {"type": "bar"},
   "encoding": {
    "x": {"field": "g", "type": "nominal", "scale": {"domain": ["iGlarLixi", "iGlar", "Lixi"], "paddingInner": 0.28, "paddingOuter": 0.17},
          "axis": {"title": "n", "zindex": 1, "labels": false, "ticks": false, "domainColor": "#222", "titleX": 6.5, "titleY": 12, "titleAngle": 0, "titleAlign": "center", "titleBaseline": "middle", "titleFontSize": 10, "titleFontWeight": "bold", "titleColor": "#222"}},
    "y": {"field": "v", "type": "quantitative", "scale": {"domain": [0, 100], "nice": false},
          "axis": {"title": "Patients (%)", "values": [0,10,20,30,40,50,60,70,80,90,100], "tickCount": 11, "labelOverlap": false, "grid": false, "tickSize": 4, "labelPadding": 2, "labelFontSize": 10, "labelColor": "#333", "domainColor": "#222", "tickColor": "#222", "titleFontSize": 11, "titleFontWeight": "bold", "titleColor": "#222", "titlePadding": -3}},
    "color": {"field": "g", "type": "nominal", "scale": {"domain": ["iGlarLixi", "iGlar", "Lixi"], "range": ["#0e3a5c", "#6f74b6", "#f7952e"]},
              "legend": {"title": null, "orient": "none", "legendX": 259, "legendY": 540, "direction": "horizontal", "symbolType": "square", "symbolSize": 70, "symbolStrokeWidth": 0, "labelFontSize": 9.5, "labelColor": "#333", "columnPadding": 22, "labelOffset": 6}}}},
  {"transform": [{"filter": "datum.panel=='C2' && datum.kind=='bar'"}], "mark": {"type": "text", "fontSize": 9, "color": "#444", "baseline": "bottom", "dy": -2},
   "encoding": {"x": {"field": "g", "type": "nominal", "scale": {"domain": ["iGlarLixi", "iGlar", "Lixi"], "paddingInner": 0.28, "paddingOuter": 0.17}},
    "y": {"field": "v", "type": "quantitative", "scale": {"domain": [0, 100], "nice": false}}, "text": {"field": "v", "type": "quantitative", "format": ".1f"}}},
  {"transform": [{"filter": "datum.panel=='C2' && datum.kind=='bar'"}], "mark": {"type": "text", "fontSize": 10, "fontWeight": "bold", "color": "#222", "baseline": "middle"},
   "encoding": {"x": {"field": "g", "type": "nominal", "scale": {"domain": ["iGlarLixi", "iGlar", "Lixi"], "paddingInner": 0.28, "paddingOuter": 0.17}},
    "y": {"datum": -5.7, "type": "quantitative", "scale": {"domain": [0, 100], "nice": false}}, "text": {"field": "n", "type": "nominal"}}},
  {"transform": [{"filter": "datum.panel=='C2' && datum.kind=='cmp'"}], "mark": {"type": "rule", "color": "#333", "x2Offset": -18},
   "encoding": {"x": {"field": "from", "type": "nominal", "scale": {"domain": ["iGlarLixi", "iGlar", "Lixi"], "paddingInner": 0.28, "paddingOuter": 0.17}}, "x2": {"field": "to"},
    "y": {"field": "lvl", "type": "quantitative", "scale": {"domain": [0, 100], "nice": false}}}},
  {"transform": [{"filter": "datum.panel=='C2' && datum.kind=='cmp'"}], "mark": {"type": "rule", "color": "#333"},
   "encoding": {"x": {"field": "from", "type": "nominal", "scale": {"domain": ["iGlarLixi", "iGlar", "Lixi"], "paddingInner": 0.28, "paddingOuter": 0.17}},
    "y": {"field": "lvl", "type": "quantitative", "scale": {"domain": [0, 100], "nice": false}}, "y2": {"field": "tip"}}},
  {"transform": [{"filter": "datum.panel=='C2' && datum.kind=='cmp'"}], "mark": {"type": "rule", "color": "#333", "yOffset": 28, "y2Offset": -17},
   "encoding": {"x": {"field": "to", "type": "nominal", "scale": {"domain": ["iGlarLixi", "iGlar", "Lixi"], "paddingInner": 0.28, "paddingOuter": 0.17}},
    "y": {"field": "lvl", "type": "quantitative", "scale": {"domain": [0, 100], "nice": false}}, "y2": {"field": "vto"}}},
  {"transform": [{"filter": "datum.panel=='C2' && datum.kind=='cmp'"}], "mark": {"type": "point", "shape": "triangle-down", "filled": true, "color": "#222", "opacity": 1, "size": 18, "yOffset": -2},
   "encoding": {"x": {"field": "from", "type": "nominal", "scale": {"domain": ["iGlarLixi", "iGlar", "Lixi"], "paddingInner": 0.28, "paddingOuter": 0.17}},
    "y": {"field": "tip", "type": "quantitative", "scale": {"domain": [0, 100], "nice": false}}}},
  {"transform": [{"filter": "datum.panel=='C2' && datum.kind=='cmp'"}], "mark": {"type": "point", "shape": "triangle-down", "filled": true, "color": "#222", "opacity": 1, "size": 18, "yOffset": -19},
   "encoding": {"x": {"field": "to", "type": "nominal", "scale": {"domain": ["iGlarLixi", "iGlar", "Lixi"], "paddingInner": 0.28, "paddingOuter": 0.17}},
    "y": {"field": "vto", "type": "quantitative", "scale": {"domain": [0, 100], "nice": false}}}},
  {"transform": [{"filter": "datum.panel=='C2' && datum.kind=='cmp'"}], "mark": {"type": "text", "fontSize": 8.5, "fontStyle": "italic", "fontWeight": "bold", "color": "#222", "baseline": "middle", "dx": -2},
   "encoding": {"x": {"field": "to", "type": "nominal", "scale": {"domain": ["iGlarLixi", "iGlar", "Lixi"], "paddingInner": 0.28, "paddingOuter": 0.17}},
    "y": {"field": "lvl", "type": "quantitative", "scale": {"domain": [0, 100], "nice": false}}, "text": {"field": "diff"}}},
  {"transform": [{"filter": "datum.panel=='C2' && datum.kind=='cmp'"}], "mark": {"type": "text", "fontSize": 8.5, "fontStyle": "italic", "color": "#555", "baseline": "middle", "dx": -2, "dy": 10},
   "encoding": {"x": {"field": "to", "type": "nominal", "scale": {"domain": ["iGlarLixi", "iGlar", "Lixi"], "paddingInner": 0.28, "paddingOuter": 0.17}},
    "y": {"field": "lvl", "type": "quantitative", "scale": {"domain": [0, 100], "nice": false}}, "text": {"field": "sd"}}},
  {"transform": [{"filter": "datum.panel=='C2' && datum.kind=='cmp'"}], "mark": {"type": "text", "fontSize": 8.5, "fontStyle": "italic", "color": "#555", "baseline": "middle", "dx": -2, "dy": 20},
   "encoding": {"x": {"field": "to", "type": "nominal", "scale": {"domain": ["iGlarLixi", "iGlar", "Lixi"], "paddingInner": 0.28, "paddingOuter": 0.17}},
    "y": {"field": "lvl", "type": "quantitative", "scale": {"domain": [0, 100], "nice": false}}, "text": {"field": "p"}}}
 ]}
 ], "spacing": 10}
], "spacing": 30, "center": true
}
